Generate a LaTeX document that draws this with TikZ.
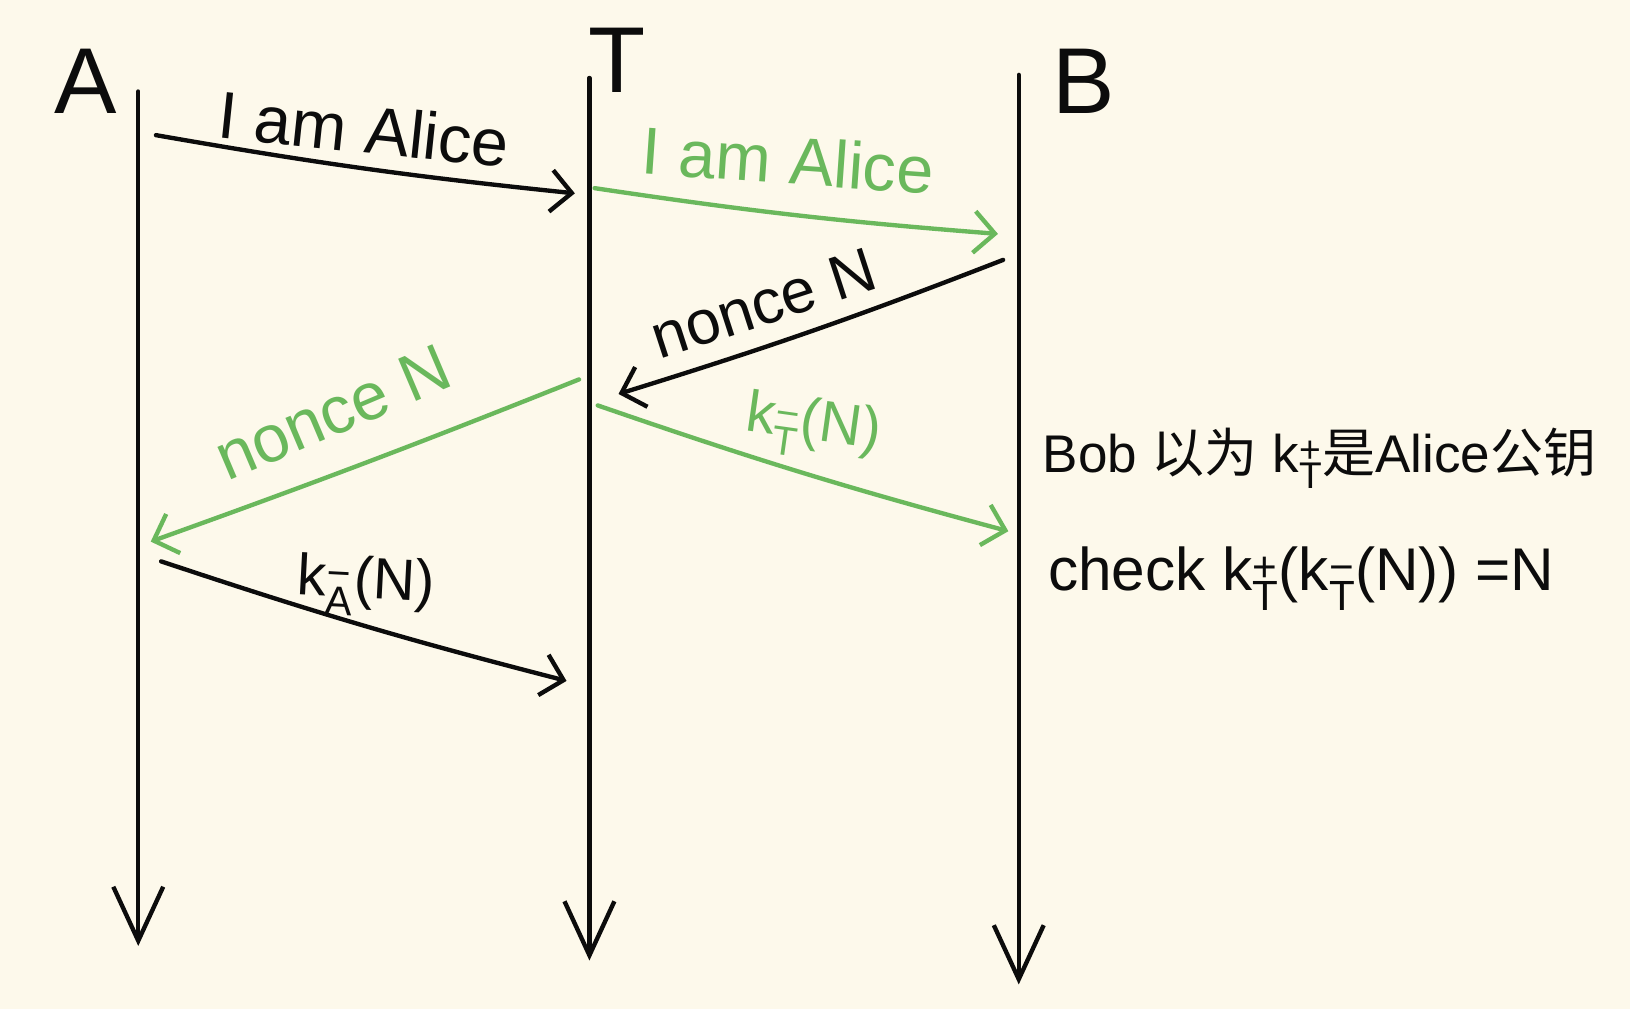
\documentclass[tikz,border=0pt]{standalone}
\usepackage{fontspec}
\setmainfont{Liberation Sans}
\newfontfamily\cjk{Noto Sans CJK SC}
\usetikzlibrary{arrows.meta}
\definecolor{bgcol}{RGB}{253,249,235}
\definecolor{pen}{RGB}{12,12,12}
\definecolor{grn}{RGB}{106,184,92}
\newcommand{\keyk}[2]{k\rlap{\textsuperscript{#2}}\textsubscript{#1}}
\begin{document}
\begin{tikzpicture}[x=1pt,y=-1pt,
  lifeline/.style={line width=4.2pt, draw=pen, line cap=round,
    -{Straight Barb[length=52pt,width=48pt,line width=4.2pt]}},
  msgline/.style={line width=4.2pt, line cap=round,
    -{Straight Barb[length=20pt,width=40pt,line width=4.2pt]}},
  actor/.style={font=\fontsize{90}{90}\selectfont, inner sep=0pt, text=pen},
  lbl/.style={font=\fontsize{64}{64}\selectfont, inner sep=0pt},
  note/.style={font=\fontsize{51}{51}\selectfont, inner sep=0pt, text=pen, anchor=west}]
\fill[bgcol] (0,0) rectangle (1568,971);
\useasboundingbox (0,0) rectangle (1568,971);

% actors
\node[actor] (A) at (82,78) {A};
\node[actor] (T) at (594,58) {T};
\node[actor] (B) at (1042,78) {B};

% lifelines
\coordinate (Atop) at (133,88);  \coordinate (Abot) at (133,910);
\coordinate (Ttop) at (567,75);  \coordinate (Tbot) at (567,924);
\coordinate (Btop) at (980,72);  \coordinate (Bbot) at (980,947);
\draw[lifeline] (Atop) -- (Abot);
\draw[lifeline] (Ttop) -- (Tbot);
\draw[lifeline] (Btop) -- (Bbot);

% message end points
\coordinate (m1s) at (150,130); \coordinate (m1e) at (553,186);
\coordinate (m2s) at (572,181); \coordinate (m2e) at (960,225);
\coordinate (m3s) at (965,250); \coordinate (m3e) at (595,379);
\coordinate (m4s) at (557,365); \coordinate (m4e) at (145,521);
\coordinate (m5s) at (575,390); \coordinate (m5e) at (970,511);
\coordinate (m6s) at (155,540); \coordinate (m6e) at (545,655);

% messages
\draw[msgline, pen] (m1s) to[bend right=2] (m1e);
\node[lbl, text=pen, rotate=-6] (l1) at (350,124) {I am Alice};

\draw[msgline, grn] (m2s) to[bend right=2] (m2e);
\node[lbl, text=grn, rotate=-4] (l2) at (758,154) {I am Alice};

\draw[msgline, pen] (m3s) to[bend left=2] (m3e);
\node[lbl, text=pen, rotate=18, font=\fontsize{60}{60}\selectfont] (l3) at (734,292) {nonce N};

\draw[msgline, grn] (m4s) to[bend left=1] (m4e);
\node[lbl, text=grn, rotate=23] (l4) at (320,397) {nonce N};

\draw[msgline, grn] (m5s) to[bend right=2] (m5e);
\node[lbl, text=grn, rotate=-8, font=\fontsize{56}{56}\selectfont] (l5) at (782,412) {\keyk{T}{−}(N)};

\draw[msgline, pen] (m6s) to[bend right=2] (m6e);
\node[lbl, text=pen, rotate=-3, font=\fontsize{56}{56}\selectfont] (l6) at (352,564) {\keyk{A}{−}(N)};

% notes at B
\node[note] (n1) at (1003,441) {Bob {\cjk 以为} \keyk{T}{+}{\cjk 是}Alice{\cjk 公钥}};
\node[note, font=\fontsize{58}{58}\selectfont] (n2) at (1008,557) {check \keyk{T}{+}(\keyk{T}{−}(N)) =N};
\end{tikzpicture}
\end{document}
